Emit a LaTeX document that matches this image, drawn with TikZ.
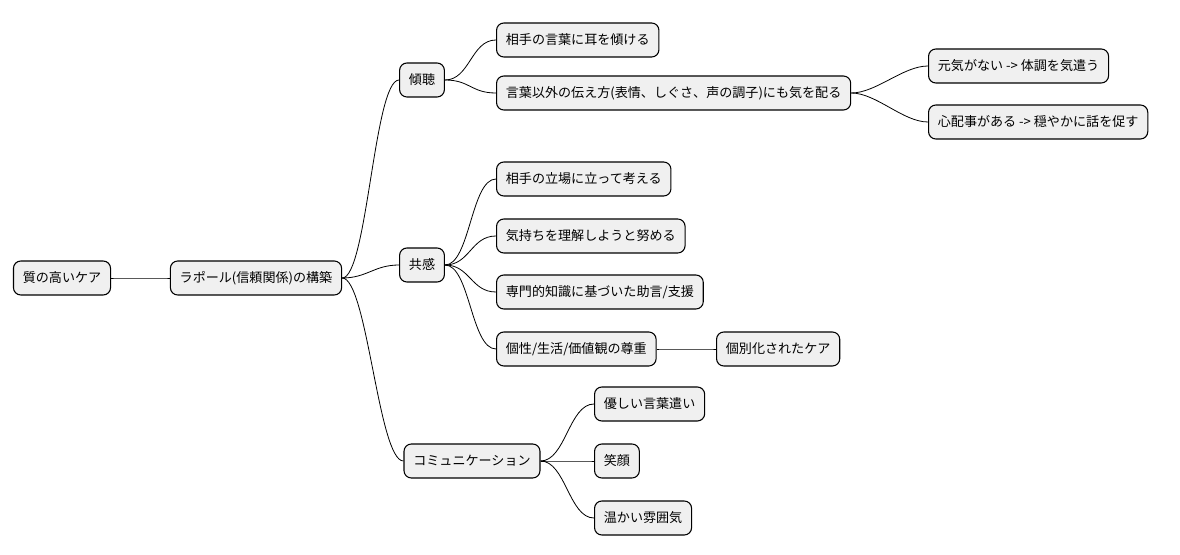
\documentclass[tikz,border=0pt]{standalone}
\usepackage{fontspec}
\setmainfont{Noto Sans CJK JP}
\begin{document}
\begin{tikzpicture}[x=0.75pt,y=-0.75pt,
  box/.style={draw=black,line width=0.8pt,fill=black!6,rounded corners=5.5pt,minimum height=25.5pt,inner xsep=7pt,font=\fontsize{9.8pt}{11pt}\selectfont},
  e/.style={line width=0.6pt}]
\useasboundingbox (0,0) rectangle (1180,555);
\node[box] (r) at (62,278) {質の高いケア};
\node[box] (a) at (256,278) {ラポール(信頼関係)の構築};
\node[box] (b1) at (422,80) {傾聴};
\node[box] (b2) at (422,265) {共感};
\node[box] (b3) at (472,461) {コミュニケーション};
\node[box,anchor=west] (c1) at (496,40) {相手の言葉に耳を傾ける};
\node[box,anchor=west] (c2) at (496,93) {言葉以外の伝え方(表情、しぐさ、声の調子)にも気を配る};
\node[box,anchor=west] (d1) at (928,66) {元気がない -> 体調を気遣う};
\node[box,anchor=west] (d2) at (928,122) {心配事がある -> 穏やかに話を促す};
\node[box,anchor=west] (c3) at (496,179) {相手の立場に立って考える};
\node[box,anchor=west] (c4) at (496,236) {気持ちを理解しようと努める};
\node[box,anchor=west] (c5) at (496,292) {専門的知識に基づいた助言/支援};
\node[box,anchor=west] (c6) at (496,349) {個性/生活/価値観の尊重};
\node[box,anchor=west] (d3) at (716,349) {個別化されたケア};
\node[box,anchor=west] (c7) at (594,404) {優しい言葉遣い};
\node[box,anchor=west] (c8) at (594,461) {笑顔};
\node[box,anchor=west] (c9) at (594,518) {温かい雰囲気};
\foreach \p/\c in {r/a,a/b1,a/b2,a/b3,b1/c1,b1/c2,c2/d1,c2/d2,b2/c3,b2/c4,b2/c5,b2/c6,c6/d3,b3/c7,b3/c8,b3/c9}
  \draw[e] (\p.east) .. controls +(25,0) and +(-25,0) .. (\c.west);
\end{tikzpicture}
\end{document}
